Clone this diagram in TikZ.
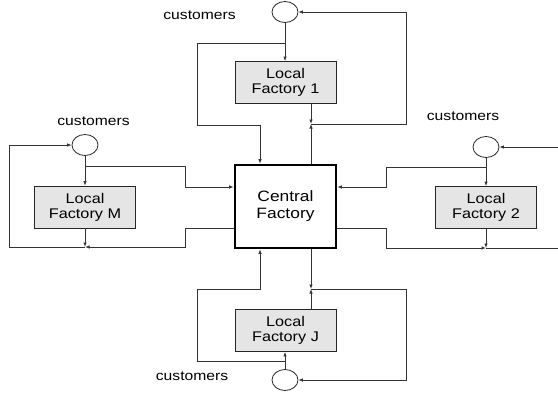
\documentclass[tikz,border=0pt]{standalone}
\usepackage{fontspec}
\setmainfont[FakeStretch=1.16]{Liberation Sans}
\usetikzlibrary{arrows.meta,shapes.geometric}
\tikzset{
  factory/.style={draw=black!85, fill=black!10, line width=0.8pt, minimum width=101pt,
    minimum height=42pt, align=center, font=\fontsize{14}{15}\selectfont, inner sep=0pt},
  central/.style={draw=black, line width=2.6pt, minimum width=101pt, minimum height=83pt,
    align=center, font=\fontsize{15}{17}\selectfont, inner sep=0pt},
  market/.style={draw=black!85, line width=0.8pt, ellipse, minimum width=26pt, minimum height=21pt, inner sep=0pt},
  flow/.style={draw=black!80, line width=0.8pt, -{Latex[length=4.5pt,width=3.5pt]}},
  lbl/.style={font=\fontsize{13.5}{15}\selectfont, inner sep=0pt}
}
\begin{document}
\begin{tikzpicture}[x=1pt,y=-1pt]
\useasboundingbox (0,0) rectangle (558,400);
\clip (0,0) rectangle (558,400);

% factories
\node[central] (cf) at (285.5,206.5) {Central\\Factory};
\node[factory] (f1) at (285.5,82.5) {Local\\Factory 1};
\node[factory] (fm) at (85,207) {Local\\Factory M};
\node[factory] (f2) at (486,207.5) {Local\\Factory 2};
\node[factory] (fj) at (285.5,330.5) {Local\\Factory J};

% customer markets
\node[market] (c1) at (285,12) {};
\node[market] (cm) at (85,145) {};
\node[market] (c2) at (486,147) {};
\node[market] (cj) at (285,380) {};

\node[lbl] (l1) at (199.5,15) {customers};
\node[lbl] (lm) at (93.5,121) {customers};
\node[lbl] (l2) at (463,116) {customers};
\node[lbl] (lj) at (192,376) {customers};

% junction and branch points
\coordinate (b1) at (285,43);
\coordinate (j1) at (311,124);
\coordinate (bm) at (85,166);
\coordinate (jm) at (85,247);
\coordinate (b2) at (486,167);
\coordinate (j2) at (486,248);
\coordinate (bj) at (285,361);
\coordinate (jj) at (311,289);

% top loop
\draw[flow] (c1.south -| b1) -- (f1.north -| b1);
\draw[flow] (b1) -- (197,43) -- (197,125) -- (260,125) -- (cf.north -| 260,0);
\draw[flow] (f1.south -| j1) -- (j1);
\draw[flow] (cf.north -| j1) -- (j1);
\draw[flow] (j1) -- (406,124) -- (406,12) -- (c1.east);

% left loop
\draw[flow] (cm.south) -- (fm.north -| cm);
\draw[flow] (bm) -- (185,166) -- (185,187) -- (cf.west |- 0,187);
\draw[flow] (fm.south -| jm) -- (jm);
\draw[flow] (cf.west |- 0,228) -- (185,228) -- (185,247) -- (jm);
\draw[flow] (jm) -- (9,247) -- (9,145) -- (cm.west);

% right loop
\draw[flow] (c2.south) -- (f2.north -| c2);
\draw[flow] (b2) -- (386,167) -- (386,187) -- (cf.east |- 0,187);
\draw[flow] (f2.south -| j2) -- (j2);
\draw[flow] (cf.east |- 0,228) -- (386,228) -- (386,248) -- (j2);
\draw[flow] (j2) -- (562,248) -- (562,147) -- (c2.east);

% bottom loop
\draw[flow] (cj.north) -- (fj.south -| cj);
\draw[flow] (bj) -- (197,361) -- (197,289) -- (260,289) -- (cf.south -| 260,0);
\draw[flow] (cf.south -| jj) -- (jj);
\draw[flow] (fj.north -| jj) -- (jj);
\draw[flow] (jj) -- (406,289) -- (406,380) -- (cj.east);
\end{tikzpicture}
\end{document}
